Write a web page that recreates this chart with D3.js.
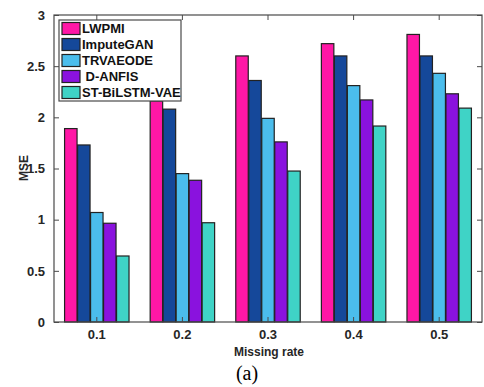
<!DOCTYPE html>
<html><head><meta charset="utf-8">
<script src="https://cdn.jsdelivr.net/npm/d3@7"></script>
<style>body{margin:0;background:#fff}svg{display:block}</style>
</head><body>
<svg id="c" width="484" height="387"></svg>
<script>
const categories = ["0.1","0.2","0.3","0.4","0.5"];
const seriesNames = ["LWPMI","ImputeGAN","TRVAEODE"," D-ANFIS","ST-BiLSTM-VAE"];
const LWPMI      = [1.89, 2.16, 2.60, 2.72, 2.81];
const ImputeGAN  = [1.73, 2.08, 2.36, 2.60, 2.60];
const TRVAEODE   = [1.07, 1.45, 1.99, 2.31, 2.43];
const DANFIS     = [0.965, 1.385, 1.76, 2.17, 2.23];
const STBiLSTM   = [0.645, 0.97, 1.475, 1.915, 2.09];
const seriesValues = [LWPMI, ImputeGAN, TRVAEODE, DANFIS, STBiLSTM];
const yTicks = [0, 0.5, 1, 1.5, 2, 2.5, 3];
const yTickLabels = ["0","0.5","1","1.5","2","2.5","3"];
const colors = ["#ff17a6","#15489a","#4bbdec","#8a12de","#3fd3c6"];

const svg = d3.select("#c");
const m = {l:54, r:482, t:15, b:322};
const x = d3.scaleBand().domain(categories).range([m.l, m.r]).padding(0);
const xs = d3.scaleBand().domain(d3.range(seriesNames.length)).range([0, x.bandwidth()*0.765]).padding(0.04);
const y = d3.scaleLinear().domain([0,3]).range([m.b, m.t]);
const axisCol = "#4a4a4a";
const font = "'Liberation Sans', Arial, Helvetica, sans-serif";

// bars
categories.forEach((c, ci) => {
  const g = svg.append("g").attr("transform", `translate(${x(c) + x.bandwidth()*(1-0.765)/2},0)`);
  seriesValues.forEach((vals, si) => {
    g.append("rect")
      .attr("x", xs(si)).attr("width", xs.bandwidth())
      .attr("y", y(vals[ci])).attr("height", y(0) - y(vals[ci]))
      .attr("fill", colors[si]).attr("stroke", "#222").attr("stroke-width", 1.2);
  });
});

// box
svg.append("rect").attr("x", m.l).attr("y", m.t).attr("width", m.r-m.l).attr("height", m.b-m.t)
  .attr("fill","none").attr("stroke", axisCol).attr("stroke-width", 1.2);

// axes (inward ticks)
const xAxis = d3.axisBottom(x).tickSize(-5).tickPadding(8);
const gx = svg.append("g").attr("transform", `translate(0,${m.b})`).call(xAxis);
const xAxisTop = d3.axisTop(x).tickSize(-5).tickFormat("");
const gxt = svg.append("g").attr("transform", `translate(0,${m.t})`).call(xAxisTop);
const yAxis = d3.axisLeft(y).tickValues(yTicks).tickFormat((d,i)=>yTickLabels[i]).tickSize(-5).tickPadding(9);
const gy = svg.append("g").attr("transform", `translate(${m.l},0)`).call(yAxis);
const yAxisR = d3.axisRight(y).tickValues(yTicks).tickFormat("").tickSize(-5);
const gyr = svg.append("g").attr("transform", `translate(${m.r},0)`).call(yAxisR);
[gx,gxt,gy,gyr].forEach(g=>{
  g.select(".domain").remove();
  g.selectAll(".tick line").attr("stroke", axisCol).attr("stroke-width",1);
  g.selectAll("text").attr("font-family", font).attr("font-weight","bold").attr("font-size","13px").attr("fill","#262626");
});

// axis titles
svg.append("text").attr("x", 269).attr("y", 356).attr("text-anchor","middle")
  .attr("font-family", font).attr("font-weight","bold").attr("font-size","12px").attr("fill","#262626").text("Missing rate");
svg.append("text").attr("transform","translate(28,168) rotate(-90)").attr("text-anchor","middle")
  .attr("font-family", font).attr("font-weight","bold").attr("font-size","12px").attr("fill","#262626").text("MSE");
svg.append("text").attr("x", 247).attr("y", 380).attr("text-anchor","middle")
  .attr("font-family","'Liberation Serif','Times New Roman',serif").attr("font-size","20px").attr("fill","#000").text("(a)");

// legend
const lg = svg.append("g");
lg.append("rect").attr("x",59).attr("y",20).attr("width",122).attr("height",81)
  .attr("fill","#fff").attr("stroke", axisCol).attr("stroke-width",1.2);
seriesNames.forEach((n,i)=>{
  const cy = 28.5 + i*16;
  lg.append("rect").attr("x",62).attr("y",cy-6).attr("width",18).attr("height",12)
    .attr("fill",colors[i]).attr("stroke","#222").attr("stroke-width",1.2);
  lg.append("text").attr("x",82).attr("y",cy+4.5).attr("xml:space","preserve").style("white-space","pre")
    .attr("font-family",font).attr("font-weight","bold").attr("font-size","13px").attr("fill","#111").text(n);
});
</script>
</body></html>
